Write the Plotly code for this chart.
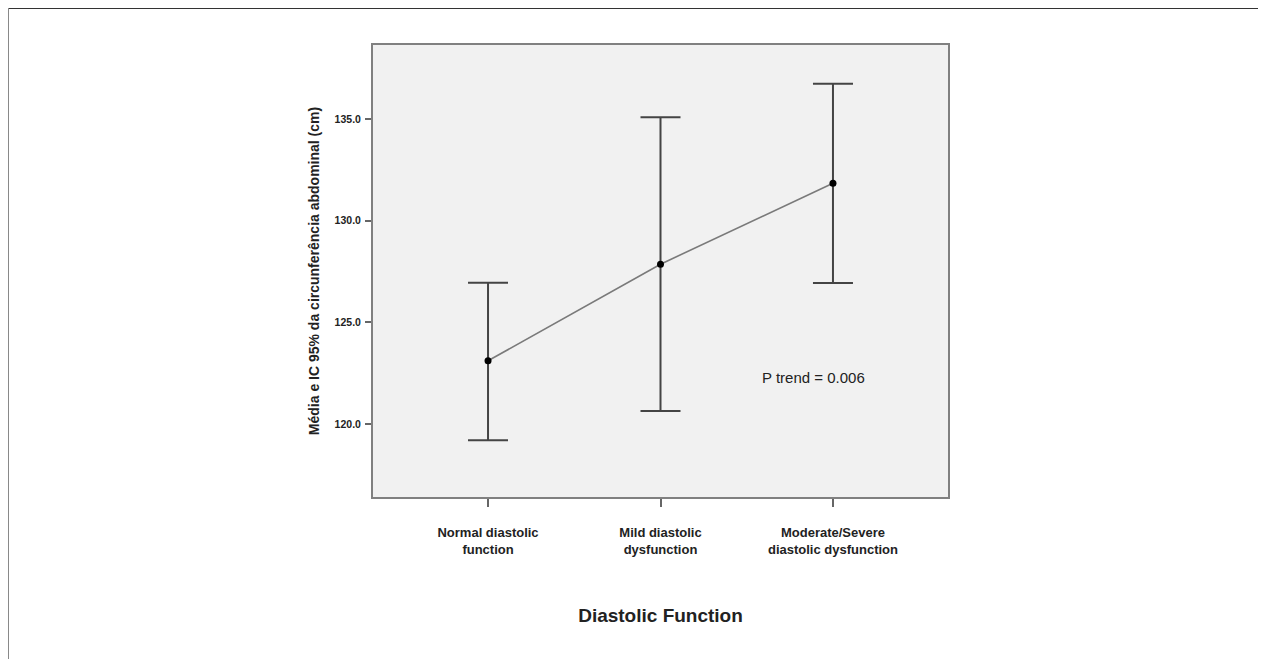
import plotly.graph_objects as go

categories = ["Normal diastolic<br>function", "Mild diastolic<br>dysfunction", "Moderate/Severe<br>diastolic dysfunction"]
means = [123.11, 127.86, 131.84]
upper = [126.95, 135.09, 136.74]
lower = [119.20, 120.64, 126.93]
y_ticks = [120.0, 125.0, 130.0, 135.0]

x_idx = list(range(len(categories)))
err_plus = [u - m for u, m in zip(upper, means)]
err_minus = [m - l for m, l in zip(means, lower)]

FONT = "Arial, Liberation Sans, sans-serif"

fig = go.Figure()
fig.add_trace(go.Scatter(
    x=x_idx, y=means, mode="lines+markers",
    line=dict(color="#7a7a7a", width=1.6),
    marker=dict(color="black", size=7),
    error_y=dict(type="data", symmetric=False, array=err_plus, arrayminus=err_minus,
                 color="#444444", thickness=2, width=20),
    showlegend=False, hoverinfo="skip"))

fig.add_annotation(x=1.89, y=122.3, xref="x", yref="y", text="P trend = 0.006",
                   showarrow=False, font=dict(family=FONT, size=15, color="#222222"))

# outer frame
fig.add_shape(type="line", xref="paper", yref="paper", x0=-0.6348, x1=1.546, y0=1.0819, y1=1.0819,
              line=dict(color="#333333", width=2))
fig.add_shape(type="line", xref="paper", yref="paper", x0=-0.6348, x1=-0.6348, y0=1.0819, y1=-0.40,
              line=dict(color="#888888", width=2))
fig.add_shape(type="line", xref="paper", yref="paper", x0=1.546, x1=1.546, y0=1.0819, y1=-0.40,
              line=dict(color="#888888", width=2))

fig.update_layout(
    width=1266, height=659,
    margin=dict(l=365, r=326, t=37, b=170),
    paper_bgcolor="white", plot_bgcolor="#f1f1f1",
    font=dict(family=FONT, color="#222222"),
    xaxis=dict(range=[-0.667, 2.667], tickvals=x_idx, ticktext=categories,
               showline=True, linecolor="#808080", linewidth=2, mirror=True,
               ticks="outside", ticklen=8, tickcolor="#666666", tickwidth=2,
               ticklabelstandoff=14,
               showgrid=False, zeroline=False,
               tickfont=dict(family=FONT, size=13, color="#222222", weight="bold"),
               title=dict(text="<b>Diastolic Function</b>", font=dict(family=FONT, size=19, color="#222222"), standoff=53)),
    yaxis=dict(range=[116.41, 138.64], tickvals=y_ticks, tickformat=".1f",
               showline=True, linecolor="#808080", linewidth=2, mirror=True,
               ticks="outside", ticklen=6, tickcolor="#666666", tickwidth=2,
               ticklabelstandoff=2,
               showgrid=False, zeroline=False,
               tickfont=dict(family=FONT, size=10.5, color="#222222", weight="bold"),
               title=dict(text="<b>Média e IC 95% da circunferência abdominal (cm)</b>",
                          font=dict(family=FONT, size=14, color="#222222"), standoff=12)),
)

fig.write_html("out.html")
